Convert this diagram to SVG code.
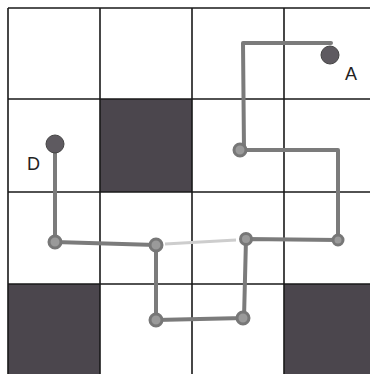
<svg xmlns="http://www.w3.org/2000/svg" width="370" height="374" viewBox="0 0 370 374">
<style>
.grid{stroke:#1a1a1a;stroke-width:1.6;fill:none}
.dark{fill:#4b464d}
.path{stroke:#7b7b7b;stroke-width:4;fill:none;stroke-linecap:round;stroke-linejoin:round}
.faint{stroke:#cdcdcd;stroke-width:3;fill:none}
.knot{fill:#9a9a9a;stroke:#777;stroke-width:3}
.end{fill:#5e5a60;stroke:#444;stroke-width:1}
.lbl{font-family:"Liberation Sans",Arial,sans-serif;font-size:18px;fill:#222}
</style>
<rect width="370" height="374" fill="#ffffff"/>
<g id="cells">
<rect class="dark" x="100" y="99" width="92" height="93"/>
<rect class="dark" x="8" y="284" width="92" height="90"/>
<rect class="dark" x="284" y="284" width="86" height="90"/>
</g>
<g id="grid">
<path class="grid" d="M8,8H370M8,99H370M8,192H370M8,284H370M8,8V374M100,8V374M192,8V374M284,8V374"/>
</g>
<g id="connectors">
<path class="faint" d="M165,244L236,240"/>
<path class="path" d="M331,43H243L244,150H338V240L246,239L244,318L156,320L156,245L55,242V150"/>
</g>
<g id="knots">
<circle class="knot" cx="240" cy="150" r="6"/>
<circle class="knot" cx="338" cy="240" r="5"/>
<circle class="knot" cx="246" cy="239" r="5.5"/>
<circle class="knot" cx="243" cy="318" r="6"/>
<circle class="knot" cx="156" cy="320" r="6"/>
<circle class="knot" cx="156" cy="245" r="6"/>
<circle class="knot" cx="55" cy="242" r="6"/>
</g>
<g id="nodeA">
<circle class="end" cx="330" cy="55" r="9"/>
<text class="lbl" x="345" y="80">A</text>
</g>
<g id="nodeD">
<circle class="end" cx="55" cy="144" r="9"/>
<text class="lbl" x="27" y="170">D</text>
</g>
</svg>
